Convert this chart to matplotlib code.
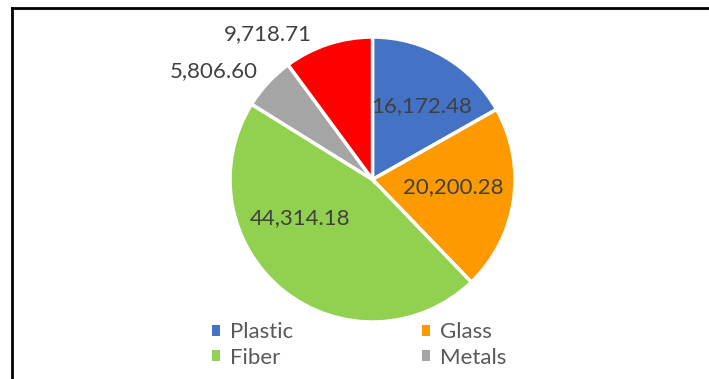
import matplotlib.pyplot as plt
from matplotlib.patches import Patch
from matplotlib.lines import Line2D

# ── Data ──────────────────────────────────────────────────────────────────────

categories = ["Plastic", "Glass", "Fiber", "Metals", "Others"]
values     = [16172.48, 20200.28, 44314.18, 5806.60, 9718.71]
colors     = ["#4472C4", "#FF9900", "#92D050", "#A5A5A5", "#FF0000"]

# label anchor points, in pie-radius units
label_pos = [(0.343, 0.517), (0.566, -0.056), (-0.51, -0.273),
             (-1.112, 0.762), (-0.734, 1.021)]

FONT = "Lato"
TEXT_COLOR = "#404040"
LEGEND_COLOR = "#595959"

W, H = 709, 379
fig = plt.figure(figsize=(W / 100, H / 100), dpi=100)

# pie centre (372.5, 179.5) px, radius 142.5 px
cx, cy, r = 372.5, 179.5, 142.5
ax = fig.add_axes([(cx - r) / W, (H - cy - r) / H, 2 * r / W, 2 * r / H])

ax.pie(values, colors=colors, startangle=90, counterclock=False,
       radius=1.0, wedgeprops={"edgecolor": "white", "linewidth": 2.5})
ax.set_xlim(-1, 1)
ax.set_ylim(-1, 1)
ax.set_aspect("equal")
ax.axis("off")

for v, (x, y) in zip(values, label_pos):
    ax.text(x, y, f"{v:,.2f}", ha="center", va="center", fontsize=16,
            family=FONT, color=TEXT_COLOR, clip_on=False)

# legend, two columns (filled column-wise)
order = [0, 2, 1, 3]
handles = [Patch(facecolor=colors[i], edgecolor="none") for i in order]
labels = [categories[i] for i in order]
fig.legend(handles, labels, ncol=2, frameon=False,
           loc="center left", bbox_to_anchor=(212 / W, 1 - 345 / H),
           prop={"family": FONT, "size": 16}, labelcolor=LEGEND_COLOR,
           handlelength=0.38, handleheight=0.38, handletextpad=0.42,
           columnspacing=5.8, labelspacing=0.25, borderpad=0, borderaxespad=0)

# chart frame (only the top and left edges fall inside the image)
fig.add_artist(Line2D([12 / W, 12 / W], [0, 1 - 8 / H], color="black",
                      linewidth=2, transform=fig.transFigure))
fig.add_artist(Line2D([12 / W, 1], [1 - 8 / H, 1 - 8 / H], color="black",
                      linewidth=2, transform=fig.transFigure))

fig.savefig("out.png", dpi=100)
